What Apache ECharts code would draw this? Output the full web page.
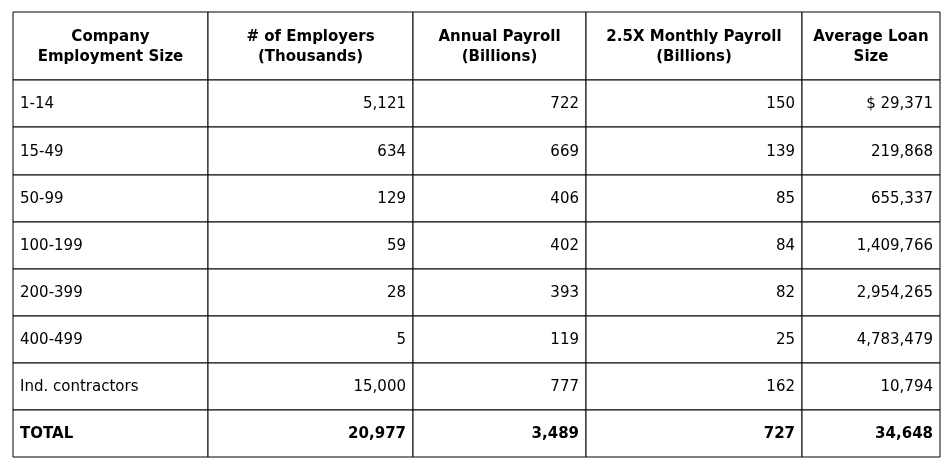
<!DOCTYPE html><html><head><meta charset="utf-8"><script src="https://cdn.jsdelivr.net/npm/echarts@6/dist/echarts.min.js"></script>
<style>html,body{margin:0;background:#fff}#c{width:951px;height:467px}</style></head><body><div id="c"></div><script>
var headers=["Company\nEmployment Size","# of Employers\n(Thousands)","Annual Payroll\n(Billions)","2.5X Monthly Payroll\n(Billions)","Average Loan\nSize"];
var categories=["1-14","15-49","50-99","100-199","200-399","400-499","Ind. contractors","TOTAL"];
var employers=["5,121","634","129","59","28","5","15,000","20,977"];
var annualPayroll=["722","669","406","402","393","119","777","3,489"];
var monthlyPayroll=["150","139","85","84","82","25","162","727"];
var avgLoan=["$ 29,371","219,868","655,337","1,409,766","2,954,265","4,783,479","10,794","34,648"];
var colEdges=[13,208,413,586,802,940];
var rowEdges=[12,80,127,175,222,269,316,363,410,457];
var data=[];
headers.forEach(function(h,c){data.push([c,0,h]);});
var cols=[categories,employers,annualPayroll,monthlyPayroll,avgLoan];
categories.forEach(function(_,r){cols.forEach(function(arr,c){data.push([c,r+1,arr[r]]);});});
var chart=echarts.init(document.getElementById('c'));
chart.setOption({animation:false,
grid:{left:0,right:0,top:0,bottom:0},
xAxis:{type:'value',min:0,max:951,show:false},
yAxis:{type:'value',min:0,max:467,inverse:true,show:false},
series:[{type:'custom',data:data,renderItem:function(p,api){
 var c=api.value(0),r=api.value(1),t=data[p.dataIndex][2];
 var p0=api.coord([colEdges[c],rowEdges[r]]),p1=api.coord([colEdges[c+1],rowEdges[r+1]]);
 var hdr=r===0,bold=hdr||r===9-1+0&&false||r===8;
 var align=hdr?'center':(c===0?'left':'right');
 var tx=hdr?(p0[0]+p1[0])/2:(c===0?p0[0]+7:p1[0]-7);
 return {type:'group',children:[
  {type:'rect',shape:{x:p0[0],y:p0[1],width:p1[0]-p0[0],height:p1[1]-p0[1]},style:{fill:'#fff',stroke:'#000',lineWidth:1}},
  {type:'text',style:{x:tx,y:(p0[1]+p1[1])/2+1,text:t,align:align,verticalAlign:'middle',fill:'#000',font:(bold?'bold ':'')+'15px "DejaVu Sans"',lineHeight:20}}
 ]};
}}]});
</script></body></html>
